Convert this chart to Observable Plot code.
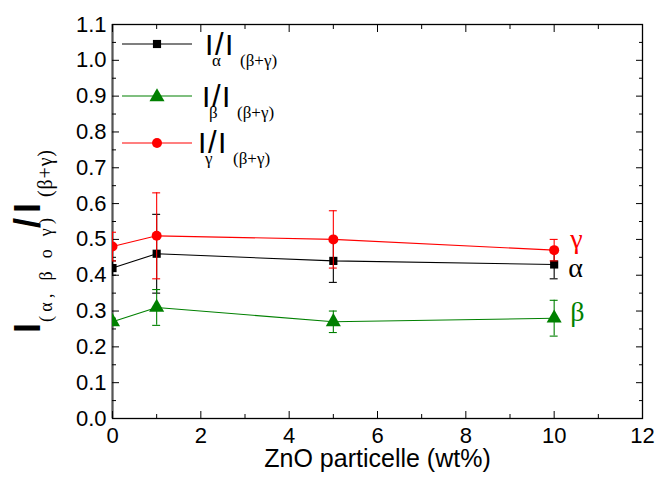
<!DOCTYPE html>
<html><head><meta charset="utf-8">
<script src="https://cdn.jsdelivr.net/npm/d3@7"></script>
<script src="https://cdn.jsdelivr.net/npm/@observablehq/plot@0.6"></script>
<style>body{margin:0;background:#fff} #chart{width:657px;height:480px}</style>
</head><body><div id="chart"></div>
<script>
// ---- data ----
const zno = [0, 1, 5, 10];
const alphaVals = [0.42, 0.46, 0.44, 0.43];
const alphaErrs = [0.02, 0.11, 0.06, 0.04];
const betaVals  = [0.27, 0.31, 0.27, 0.28];
const betaErrs  = [0.01, 0.05, 0.03, 0.05];
const gammaVals = [0.48, 0.51, 0.50, 0.47];
const gammaErrs = [0.04, 0.12, 0.08, 0.03];
const seriesNames = ["α", "β", "γ"];
const seriesColors = ["#000000", "#008000", "#ff0000"];
const seriesSymbols = ["square", "triangle", "circle"];
const xTicks = [0, 2, 4, 6, 8, 10, 12];
const xMinorTicks = [1, 3, 5, 7, 9, 11];
const yTicks = [0, 0.1, 0.2, 0.3, 0.4, 0.5, 0.6, 0.7, 0.8, 0.9, 1.0, 1.1];
const yMinorTicks = [0.05, 0.15, 0.25, 0.35, 0.45, 0.55, 0.65, 0.75, 0.85, 0.95, 1.05];
const xLabel = "ZnO particelle (wt%)";

const vals = [alphaVals, betaVals, gammaVals];
const errs = [alphaErrs, betaErrs, gammaErrs];
const rows = [];
seriesNames.forEach((s, i) => zno.forEach((x, j) => rows.push({
  series: s, x, y: vals[i][j], lo: vals[i][j] - errs[i][j], hi: vals[i][j] + errs[i][j]
})));

const SANS = "'Liberation Sans', Arial, sans-serif";
const SERIF = "'Liberation Serif', 'Times New Roman', serif";
const capHalf = 0.09;
const labelDy = { "α": 4, "β": -6, "γ": -11 };
const dotR = { "square": 4.6, "triangle": 5.6, "circle": 5 };

const seriesMarks = seriesNames.flatMap((s, i) => {
  const d = rows.filter(r => r.series === s);
  const c = seriesColors[i];
  return [
    Plot.line(d, { x: "x", y: "y", stroke: c, strokeWidth: 1.1, clip: true }),
    Plot.ruleX(d, { x: "x", y1: "lo", y2: "hi", stroke: c, strokeWidth: 1.1, clip: true }),
    Plot.ruleY(d, { y: "lo", x1: r => r.x - capHalf, x2: r => r.x + capHalf, stroke: c, strokeWidth: 1.1, clip: true }),
    Plot.ruleY(d, { y: "hi", x1: r => r.x - capHalf, x2: r => r.x + capHalf, stroke: c, strokeWidth: 1.1, clip: true }),
    Plot.dot(d, { x: "x", y: "y", fill: c, stroke: "none", symbol: () => seriesSymbols[i], r: dotR[seriesSymbols[i]], clip: true }),
    Plot.text(d.filter(r => r.x === zno[zno.length - 1]), {
      x: "x", y: "y", text: () => s, fill: c, textAnchor: "start",
      dx: s === "α" ? 14 : 16, dy: labelDy[s], fontSize: 28, className: "serif-label"
    })
  ];
});

const svg = Plot.plot({
  width: 657, height: 480,
  marginLeft: 112, marginRight: 15, marginTop: 24, marginBottom: 62,
  x: { domain: [0, 12] },
  y: { domain: [0, 1.1] },
  style: { fontFamily: SANS, fontSize: "22px", color: "black", background: "white" },
  marks: [
    Plot.frame({ stroke: "black", strokeWidth: 1.3 }),
    Plot.ruleX([0], { stroke: "#555", strokeWidth: 2 }),
    Plot.axisX(xTicks, { tickSize: -7, tickPadding: 16, tickFormat: d => d, label: null, fontSize: 22 }),
    Plot.axisX(xMinorTicks, { tickSize: -4, tickFormat: () => "", label: null }),
    Plot.axisX(xTicks, { anchor: "top", tickSize: -7, tickFormat: () => "", label: null }),
    Plot.axisX(xMinorTicks, { anchor: "top", tickSize: -4, tickFormat: () => "", label: null }),
    Plot.axisY(yTicks, { tickSize: -7, tickPadding: 13, tickFormat: d3.format(".1f"), label: null, fontSize: 22 }),
    Plot.axisY(yMinorTicks, { tickSize: -4, tickFormat: () => "", label: null }),
    Plot.axisY(yTicks, { anchor: "right", tickSize: -7, tickFormat: () => "", label: null }),
    Plot.axisY(yMinorTicks, { anchor: "right", tickSize: -4, tickFormat: () => "", label: null }),
    Plot.text([xLabel], { frameAnchor: "bottom", dy: 48, fontSize: 25, fill: "black" }),
    ...seriesMarks
  ]
});
document.getElementById("chart").appendChild(svg);
d3.select(svg).selectAll(".serif-label text").style("font-family", SERIF).style("font-size", "28px");

// ---- legend (inside plot, top-left) ----
const root = d3.select(svg);
const leg = root.append("g").attr("text-anchor", "start");
const legendRows = [
  { name: "α", y: 44, base: 55, x0: 205 },
  { name: "β", y: 96, base: 107, x0: 202 },
  { name: "γ", y: 143, base: 153, x0: 198 }
];
const mk = (parent, x, y, txt, fam, fs) => parent.append("text").attr("x", x).attr("y", y)
  .attr("text-anchor", "start")
  .style("font-family", fam).style("font-size", fs + "px").style("fill", "black").text(txt);
legendRows.forEach((row, i) => {
  const c = seriesColors[i];
  leg.append("line").attr("x1", 122).attr("x2", 192).attr("y1", row.y).attr("y2", row.y)
    .attr("stroke", c).attr("stroke-width", 1.1);
  const sym = { square: d3.symbolSquare, triangle: d3.symbolTriangle, circle: d3.symbolCircle }[seriesSymbols[i]];
  const r = dotR[seriesSymbols[i]];
  leg.append("path").attr("d", d3.symbol(sym, Math.PI * r * r)())
    .attr("transform", `translate(157,${row.y + (seriesSymbols[i] === "triangle" ? 1 : 0)})`).attr("fill", c);
  mk(leg, row.x0, row.base, "I", SANS, 30);
  mk(leg, row.x0 + 7, row.base + 11, row.name, SERIF, 17);
  mk(leg, row.x0 + 10, row.base, "/", SANS, 31);
  mk(leg, row.x0 + 20, row.base, "I", SANS, 30);
  mk(leg, row.x0 + 35, row.base + 11, "(β+γ)", SERIF, 17);
});

// ---- y-axis label (rotated) ----
const yl = root.append("g").attr("transform", "translate(40,330) rotate(-90)").attr("text-anchor", "start");
mk(yl, -3, 0, "I", SANS, 36).style("font-weight", "bold");
mk(yl, 8, 12, "(α, β o γ)", SERIF, 18).attr("textLength", 104).attr("lengthAdjust", "spacing");
mk(yl, 102, 0, "/", SANS, 36).style("font-weight", "bold");
mk(yl, 117, 0, "I", SANS, 36).style("font-weight", "bold");
mk(yl, 133, 12, "(β+γ)", SERIF, 20).attr("textLength", 47).attr("lengthAdjust", "spacing");
</script>
</body></html>
